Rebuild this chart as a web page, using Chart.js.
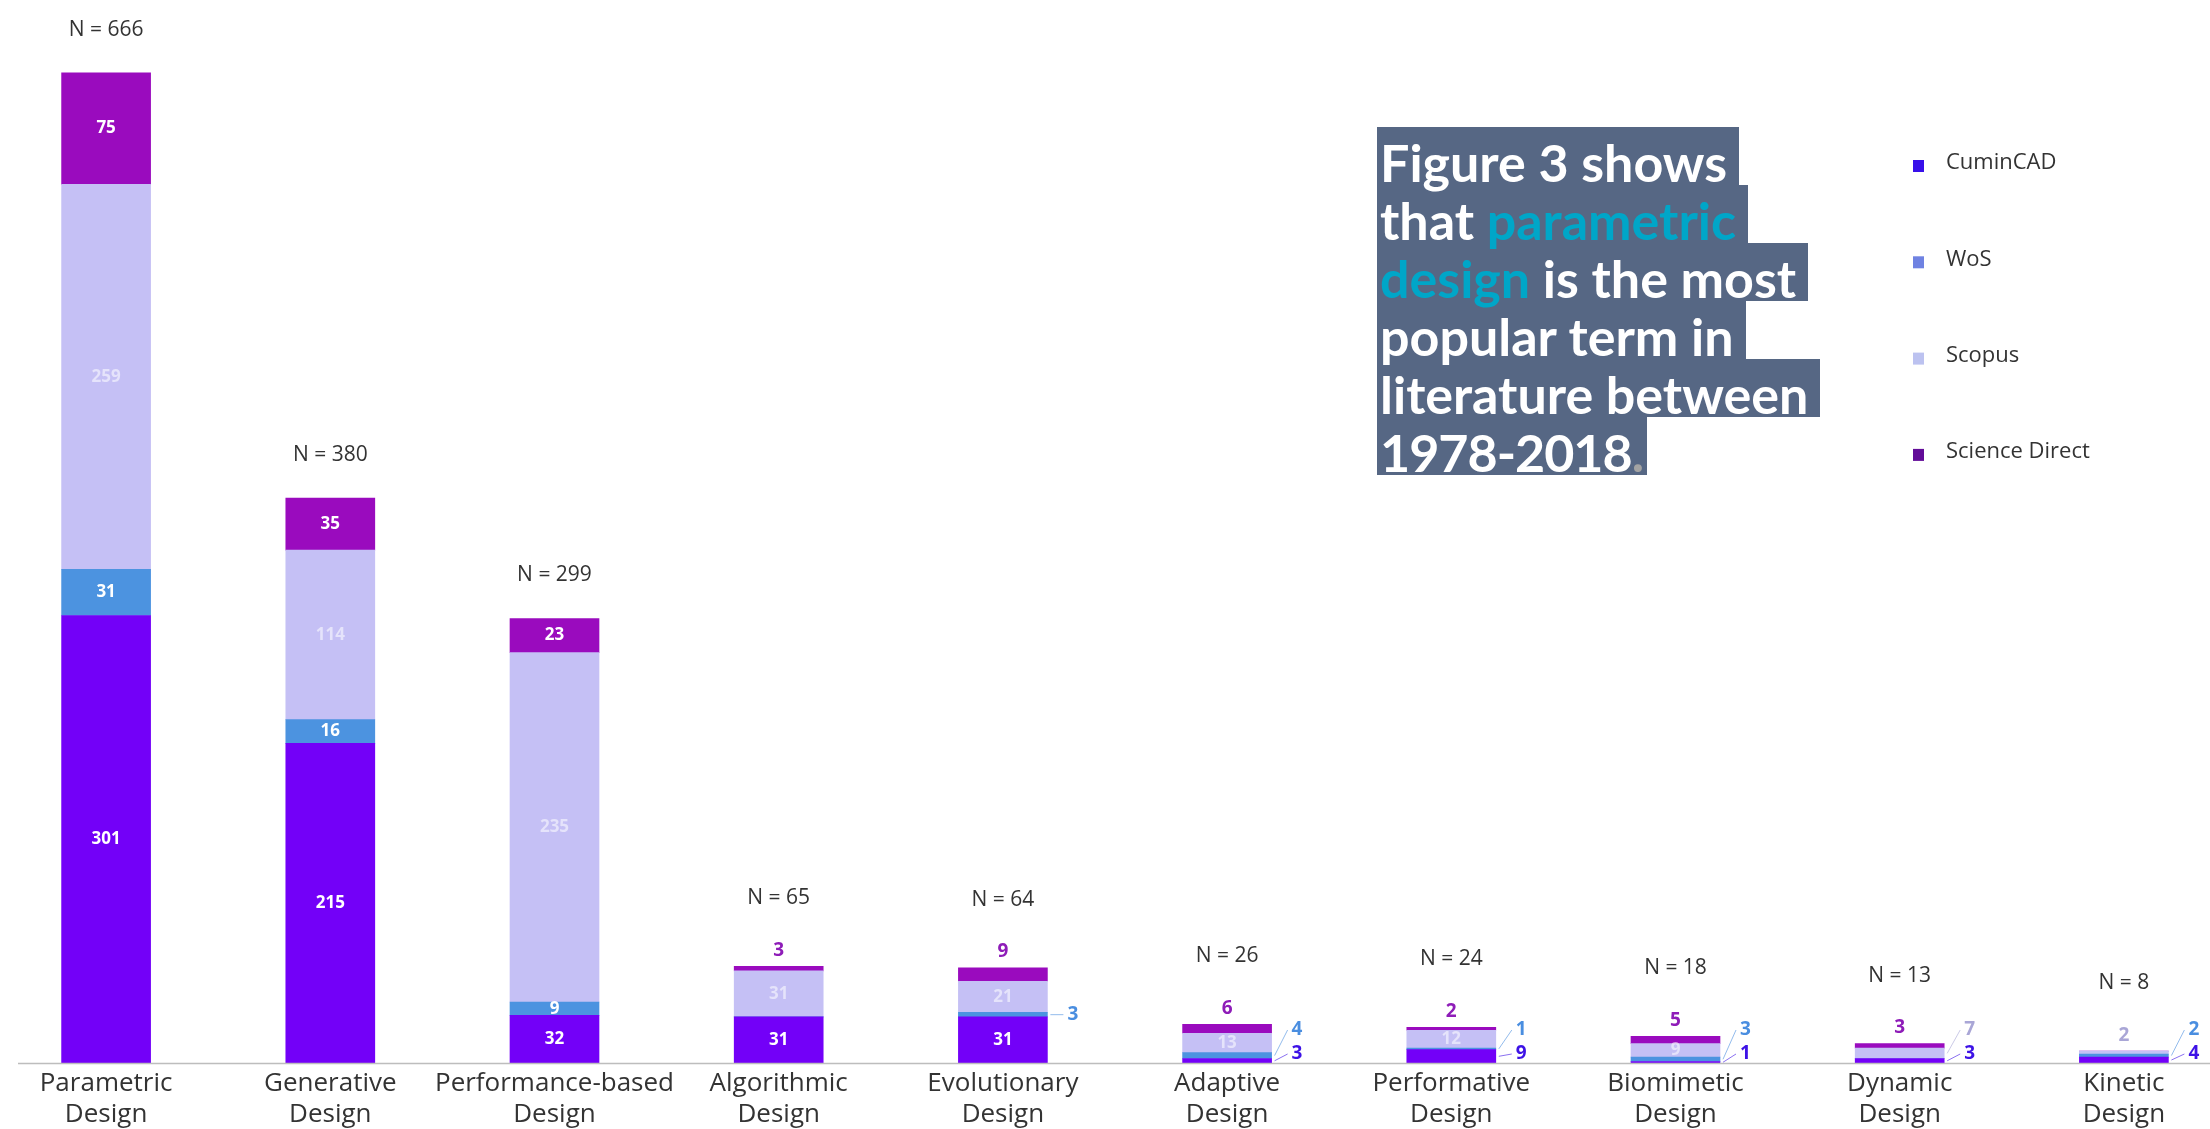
<!DOCTYPE html>
<html>
<head>
<meta charset="utf-8">
<script src="https://cdn.jsdelivr.net/npm/chart.js@4.4.1/dist/chart.umd.min.js"></script>
<style>
    html, body {
        margin: 0;
        padding: 0;
        background: #fff;
        width: 2210px;
        height: 1129px;
        overflow: hidden;
    }
    #wrap {
        position: absolute;
        left: -6px;
        top: 0;
        width: 2242px;
        height: 1129px;
    }
    #note {
        position: absolute;
        left: 1377px;
        top: 127px;
        font-family: Lato, sans-serif;
        font-weight: 700;
        font-size: 52px;
        color: #fff;
    }
    #note div {
        background: #566784;
        width: fit-content;
        height: 58px;
        line-height: 58px;
        padding-left: 3px;
        padding-right: 12px;
        white-space: nowrap;
    }
    #note div.last {
        padding-right: 4px;
        letter-spacing: -1px;
    }
    #note .t {
        position: relative;
        top: 6px;
    }
    #note .hl {
        color: #00a6c8;
    }
    #note .dot {
        color: #a3a3a3;
    }
</style>
</head>
<body>
<div id="wrap"><canvas id="termsChart" width="2242" height="1129"></canvas></div>
<div id="note">
    <div><span class="t">Figure 3 shows</span></div>
    <div><span class="t">that <span class="hl">parametric</span></span></div>
    <div><span class="t"><span class="hl">design</span> is the most</span></div>
    <div><span class="t">popular term in</span></div>
    <div><span class="t">literature between</span></div>
    <div class="last"><span class="t">1978-2018<span class="dot">.</span></span></div>
</div>
<script>
const categories = [
    ['Parametric', 'Design'],
    ['Generative', 'Design'],
    ['Performance-based', 'Design'],
    ['Algorithmic', 'Design'],
    ['Evolutionary', 'Design'],
    ['Adaptive', 'Design'],
    ['Performative', 'Design'],
    ['Biomimetic', 'Design'],
    ['Dynamic', 'Design'],
    ['Kinetic', 'Design']
];

const seriesNames = ['CuminCAD', 'WoS', 'Scopus', 'Science Direct'];

const cumincad = [301, 215, 32, 31, 31, 3, 9, 1, 3, 4];
const wos = [31, 16, 9, 0, 3, 4, 1, 3, 0, 2];
const scopus = [259, 114, 235, 31, 21, 13, 12, 9, 7, 2];
const scienceDirect = [75, 35, 23, 3, 9, 6, 2, 5, 3, 0];

const seriesValues = [cumincad, wos, scopus, scienceDirect];

const BAR_COLORS = ['#7300f8', '#4c93e0', '#c5c0f5', '#9a0bbe'];
const LEGEND_COLORS = ['#3810ea', '#6f82e2', '#bcc2f0', '#620c98'];
const OUTSIDE_COLORS = ['#3d12e6', '#4a8ee0', '#a9a6d6', '#8e1cb8'];
const INSIDE_COLORS = ['#ffffff', '#ffffff', 'rgba(255,255,255,0.55)', '#ffffff'];

Chart.defaults.font.family = "'Open Sans', 'Noto Sans', sans-serif";

function totalFor(idx) {
    return seriesValues.reduce((sum, s) => sum + s[idx], 0);
}

// value labels inside / above / right of the stacked segments, plus "N = " totals
const segmentLabels = {
    id: 'segmentLabels',
    afterDatasetsDraw(chart) {
        const ctx = chart.ctx;
        const metas = seriesValues.map((s, i) => chart.getDatasetMeta(i));
        const bottom = chart.chartArea.bottom;
        ctx.save();
        categories.forEach((c, idx) => {
            const bars = metas.map(m => m.data[idx]);
            const x = bars[0].x;
            const half = bars[0].width / 2;
            let top = -1;
            for (let k = seriesValues.length - 1; k >= 0; k--) {
                if (seriesValues[k][idx] > 0) { top = k; break; }
            }
            let nextRightY = bottom - 9;
            let labelAbove = false;
            let barTop = bottom;
            seriesValues.forEach((s, k) => {
                const v = s[idx];
                if (!v) return;
                const el = bars[k];
                const h = el.base - el.y;
                const mid = (el.y + el.base) / 2;
                barTop = Math.min(barTop, el.y);
                ctx.textBaseline = 'middle';
                if (k === top) {
                    if (h >= 20) {
                        ctx.font = "bold 17px 'Open Sans'";
                        ctx.fillStyle = INSIDE_COLORS[k];
                        ctx.textAlign = 'center';
                        ctx.fillText(String(v), x, mid);
                    } else {
                        ctx.font = "bold 19px 'Open Sans'";
                        ctx.fillStyle = OUTSIDE_COLORS[k];
                        ctx.textAlign = 'center';
                        ctx.fillText(String(v), x, el.y - 16);
                        labelAbove = true;
                    }
                } else if (h >= (k === 0 ? 20 : 12)) {
                    ctx.font = "bold 17px 'Open Sans'";
                    ctx.fillStyle = INSIDE_COLORS[k];
                    ctx.textAlign = 'center';
                    ctx.fillText(String(v), x, mid);
                } else {
                    const y = Math.min(mid, nextRightY);
                    ctx.strokeStyle = OUTSIDE_COLORS[k];
                    ctx.globalAlpha = 0.6;
                    ctx.lineWidth = 1;
                    ctx.beginPath();
                    ctx.moveTo(x + half + 3, mid);
                    ctx.lineTo(x + half + 16, y);
                    ctx.stroke();
                    ctx.globalAlpha = 1;
                    ctx.font = "bold 19px 'Open Sans'";
                    ctx.fillStyle = OUTSIDE_COLORS[k];
                    ctx.textAlign = 'left';
                    ctx.fillText(String(v), x + half + 20, y);
                    nextRightY = y - 24;
                }
            });
            ctx.font = "21px 'Open Sans'";
            ctx.fillStyle = '#333';
            ctx.textAlign = 'center';
            ctx.textBaseline = 'middle';
            ctx.fillText('N = ' + totalFor(idx), x, barTop - (labelAbove ? 68 : 43));
        });
        ctx.restore();
    }
};

// axis baseline and the vertical legend on the right
const decorations = {
    id: 'decorations',
    afterDraw(chart) {
        const ctx = chart.ctx;
        const y = chart.chartArea.bottom + 0.5;
        ctx.save();
        ctx.strokeStyle = '#bdbdbd';
        ctx.lineWidth = 1.5;
        ctx.beginPath();
        ctx.moveTo(24, y);
        ctx.lineTo(chart.width, y);
        ctx.stroke();

        ctx.font = "22px 'Open Sans'";
        ctx.textBaseline = 'middle';
        ctx.textAlign = 'left';
        seriesNames.forEach((name, i) => {
            const ly = 163 + i * 96.3;
            ctx.fillStyle = LEGEND_COLORS[i];
            ctx.fillRect(1919, ly - 3, 11, 12);
            ctx.fillStyle = '#333';
            ctx.fillText(name, 1952, ly);
        });
        ctx.restore();
    }
};

new Chart(document.getElementById('termsChart'), {
    type: 'bar',
    data: {
        labels: categories,
        datasets: seriesNames.map((name, i) => ({
            label: name,
            data: seriesValues[i],
            backgroundColor: BAR_COLORS[i],
            borderWidth: 0,
            barThickness: 89
        }))
    },
    options: {
        responsive: false,
        animation: false,
        layout: { padding: 0 },
        plugins: {
            legend: { display: false },
            tooltip: { enabled: false }
        },
        scales: {
            x: {
                stacked: true,
                grid: { display: false, drawTicks: false },
                border: { display: false },
                afterFit(scale) {
                    scale.height = 66;
                },
                ticks: {
                    autoSkip: false,
                    maxRotation: 0,
                    padding: 5,
                    color: '#333',
                    font: { size: 26, lineHeight: 1.2 }
                }
            },
            y: {
                stacked: true,
                display: false,
                min: 0,
                max: 715
            }
        }
    },
    plugins: [segmentLabels, decorations]
});
</script>
</body>
</html>
